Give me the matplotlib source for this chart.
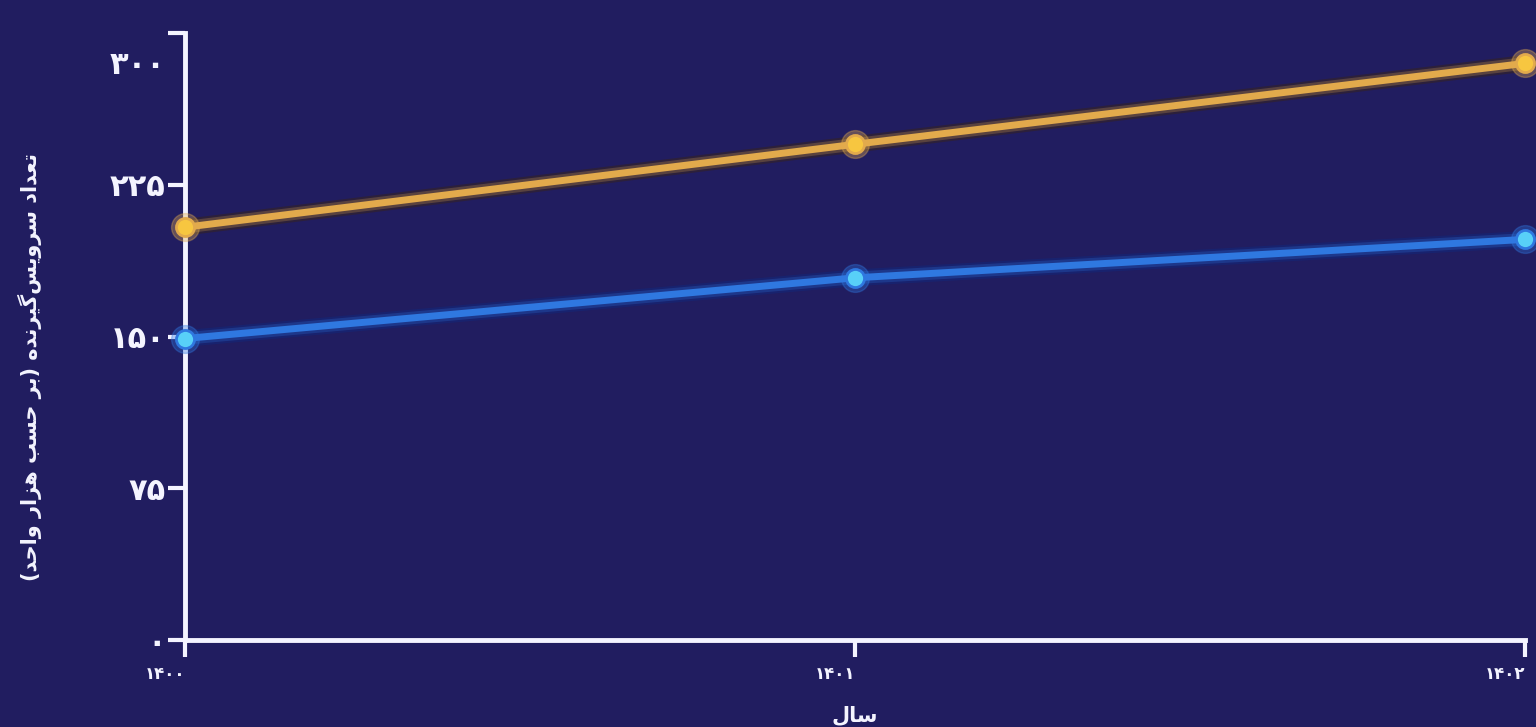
import matplotlib
matplotlib.use("Agg")
import matplotlib.pyplot as plt
import matplotlib.transforms as mtransforms

# ---------------- data ----------------
years = [1400, 1401, 1402]
year_labels = ["۱۴۰۰", "۱۴۰۱", "۱۴۰۲"]
orange_values = [204, 245, 285]
blue_values = [149, 179, 198]
y_ticks = [0, 75, 150, 225, 300]
y_tick_labels = ["۰", "۷۵", "۱۵۰", "۲۲۵", "۳۰۰"]
x_title = "سال"
y_title = "تعداد سرویس‌گیرنده (بر حسب هزار واحد)"

# ---------------- minimal Persian shaping ----------------
FORMS = {  # isolated, final, initial, medial
    "ا": ("\uFE8D", "\uFE8E", None, None),
    "ب": ("\uFE8F", "\uFE90", "\uFE91", "\uFE92"),
    "ت": ("\uFE95", "\uFE96", "\uFE97", "\uFE98"),
    "ح": ("\uFEA1", "\uFEA2", "\uFEA3", "\uFEA4"),
    "د": ("\uFEA9", "\uFEAA", None, None),
    "ر": ("\uFEAD", "\uFEAE", None, None),
    "ز": ("\uFEAF", "\uFEB0", None, None),
    "س": ("\uFEB1", "\uFEB2", "\uFEB3", "\uFEB4"),
    "ع": ("\uFEC9", "\uFECA", "\uFECB", "\uFECC"),
    "ل": ("\uFEDD", "\uFEDE", "\uFEDF", "\uFEE0"),
    "ن": ("\uFEE5", "\uFEE6", "\uFEE7", "\uFEE8"),
    "ه": ("\uFEE9", "\uFEEA", "\uFEEB", "\uFEEC"),
    "و": ("\uFEED", "\uFEEE", None, None),
    "ی": ("\uFBFC", "\uFBFD", "\uFBFE", "\uFBFF"),
    "گ": ("\uFB92", "\uFB93", "\uFB94", "\uFB95"),
}


def dual(c):
    return c in FORMS and FORMS[c][2] is not None


def shape(text):
    out = []
    n = len(text)
    for i, c in enumerate(text):
        if c == "\u200c":
            continue
        if c not in FORMS:
            out.append({"(": ")", ")": "("}.get(c, c))
            continue
        prev = text[i - 1] if i > 0 else ""
        nxt = text[i + 1] if i + 1 < n else ""
        join_prev = dual(prev)
        join_next = dual(c) and nxt in FORMS
        iso, fin, ini, med = FORMS[c]
        if join_prev and join_next:
            g = med
        elif join_prev:
            g = fin
        elif join_next:
            g = ini
        else:
            g = iso
        out.append(g)
    return "".join(reversed(out))


# ---------------- style ----------------
BG = "#211d60"
ORANGE = "#e2aa4c"
ORANGE_MK = "#f7c640"
BLUE = "#2f78e0"
BLUE_MK = "#58d0f8"
WHITE = "#f4f4ff"

plt.rcParams["font.family"] = ["DejaVu Sans"]

fig = plt.figure(figsize=(15.36, 7.27), dpi=100, facecolor=BG)
ax = fig.add_axes([185 / 1536, 1 - 640 / 727, (1525 - 185) / 1536, (640 - 33) / 727])
ax.set_facecolor(BG)

for vals, col, mk, shadow in [(orange_values, ORANGE, ORANGE_MK, "#3a2410"),
                              (blue_values, BLUE, BLUE_MK, "#0e2a80")]:
    # glow / shadow
    ax.plot(years, vals, color=shadow, lw=12, alpha=0.45, solid_capstyle="round", clip_on=False, zorder=2)
    ax.plot(years, vals, color=col, lw=9, alpha=0.25, solid_capstyle="round", clip_on=False, zorder=2)
    ax.plot(years, vals, color=col, lw=5, solid_capstyle="round", clip_on=False, zorder=3)
    ax.plot(years, vals, linestyle="none", marker="o", markersize=20, color=col, alpha=0.35,
            clip_on=False, zorder=4)
    ax.plot(years, vals, linestyle="none", marker="o", markersize=13, markerfacecolor=mk,
            markeredgecolor=col, markeredgewidth=2, clip_on=False, zorder=5)

ax.set_xlim(years[0], years[-1])
ax.set_ylim(0, 300)

ax.set_xticks(years)
ax.set_xticklabels(year_labels, fontsize=12, fontweight="bold", color=WHITE, ha="right")
ax.set_yticks(y_ticks)
ax.set_yticklabels(y_tick_labels, fontsize=22, fontweight="bold", color=WHITE)

ax.tick_params(axis="x", length=12, width=3, color=WHITE, pad=6, direction="out")
ax.tick_params(axis="y", length=12, width=3, color=WHITE, pad=2, direction="out")

# the top label sits a little below its tick in the reference
lbls = ax.get_yticklabels()
lbls[-1].set_transform(lbls[-1].get_transform() +
                       mtransforms.ScaledTranslation(0, -30 / 100, fig.dpi_scale_trans))

for s in ["top", "right"]:
    ax.spines[s].set_visible(False)
for s in ["left", "bottom"]:
    ax.spines[s].set_color(WHITE)
    ax.spines[s].set_linewidth(3.5)

ax.set_xlabel(shape(x_title), fontsize=15, fontweight="bold", color=WHITE)
ax.xaxis.set_label_coords(0.5, -0.107)
ax.set_ylabel(shape(y_title), fontsize=15, fontweight="bold", color=WHITE)
ax.yaxis.set_label_coords(-0.107, 0.45)

fig.savefig("out.png", dpi=100, facecolor=BG)
